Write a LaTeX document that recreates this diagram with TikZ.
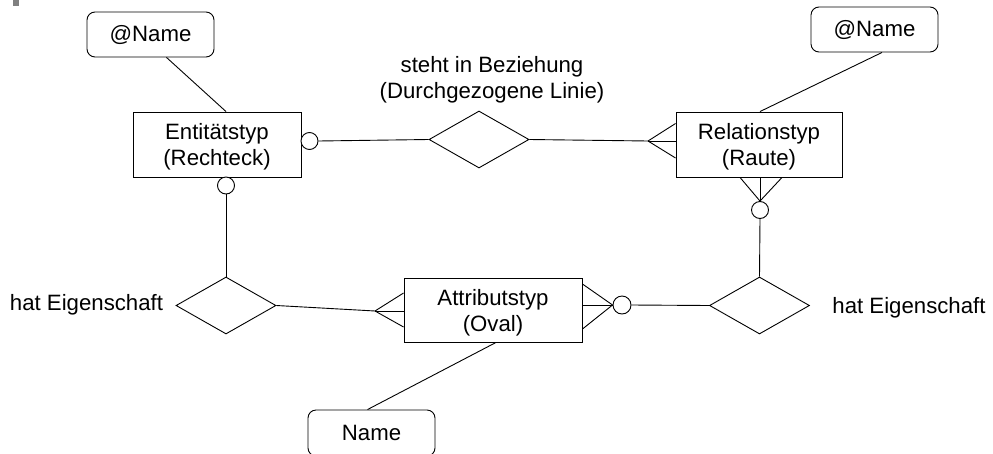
\documentclass[tikz,border=0pt]{standalone}
\usepackage{fontspec}
\setmainfont{Liberation Sans}
\usetikzlibrary{shapes.geometric,calc}
\begin{document}
\begin{tikzpicture}[x=1pt,y=-1pt,line width=0.9pt,
  every node/.style={font=\fontsize{22.2}{25.5}\selectfont,inner sep=0pt,align=center},
  every label/.style={font=\fontsize{22.2}{25.5}\selectfont,inner sep=0pt,align=center},
  typebox/.style={draw,rectangle,minimum height=65pt},
  intext/.style={label={[yshift=-2.5pt]center:{#1}}},
  namebox/.style={draw,rectangle,rounded corners=8pt,minimum width=127pt,minimum height=45pt},
  relship/.style={draw,diamond,minimum width=100pt,minimum height=57pt},
  ring/.style={draw,circle,fill=white,minimum size=17pt}]
\useasboundingbox (0,0) rectangle (993,453);
\clip (0,0) rectangle (993,453);

% small grey marker in the corner
\fill[gray] (13,0) rectangle (19,6);

% attribute name boxes
\node[namebox] (nameL) at (150.5,34.5) {@Name};
\node[namebox] (nameR) at (874.5,29.5) {@Name};
\node[namebox,minimum height=46pt] (nameA) at (371.5,433) {Name};

% type boxes
\node[typebox,minimum width=168pt,intext={Entitätstyp\\(Rechteck)}] (ent) at (217,144.5) {};
\node[typebox,minimum width=166pt,intext={Relationstyp\\(Raute)}] (rel) at (759,144.5) {};
\node[typebox,minimum width=178pt,minimum height=64pt,intext={Attributstyp\\(Oval)}] (att) at (493,310) {};

% relationship diamonds
\node[relship] (dtop) at (479,139.5) {};
\node[relship] (dleft) at (226,305.5) {};
\node[relship] (dright) at (759.5,305.5) {};

% labels
\node (lblTop) at (492,80) {steht in Beziehung\\(Durchgezogene Linie)};
\node (lblL) at (86.5,305) {hat Eigenschaft};
\node (lblR) at (909,308) {hat Eigenschaft};

% crow's foot tips
\coordinate (tipA) at (648,141);
\coordinate (tipB) at (375,311);

% name links
\draw ([xshift=16pt]nameL.south) -- ([xshift=9pt]ent.north);
\draw ([xshift=7.5pt]nameR.south) -- ([xshift=1pt]rel.north);
\draw ([xshift=-4pt]nameA.north) -- ([xshift=3pt]att.south);

% entity -- relationship
\draw (dtop.east) -- (tipA);
\draw (tipA) -- ([yshift=21pt]rel.west);
\draw (tipA) -- ([yshift=3.5pt]rel.west);
\draw (tipA) -- ([yshift=-13.5pt]rel.west);

% entity -- attribute
\draw (dleft.east) -- (tipB);
\draw (tipB) -- ([yshift=17pt]att.west);
\draw (tipB) -- ([yshift=-1pt]att.west);
\draw (tipB) -- ([yshift=-17pt]att.west);

% optional ends (circles)
\node[ring] (c1) at (309.5,141) {};
\node[ring] (c2) at (226,185.5) {};
\node[ring] (c3) at (760,210) {};
\node[ring,minimum size=18pt] (c4) at (622,305) {};

\draw (c1.east) -- (dtop.west);
\draw (c2.south) -- (dleft.north);

% relationship -- attribute
\draw ([xshift=-19pt]rel.south) -- (c3.north);
\draw ([xshift=1pt]rel.south) -- (c3.north);
\draw ([xshift=23pt]rel.south) -- (c3.north);
\draw (c3.south) -- (dright.north);

\draw ([yshift=26pt]att.east) -- (c4.west);
\draw ([yshift=5pt]att.east) -- (c4.west);
\draw ([yshift=-19pt]att.east) -- (c4.west);
\draw (c4.east) -- (dright.west);
\end{tikzpicture}
\end{document}
